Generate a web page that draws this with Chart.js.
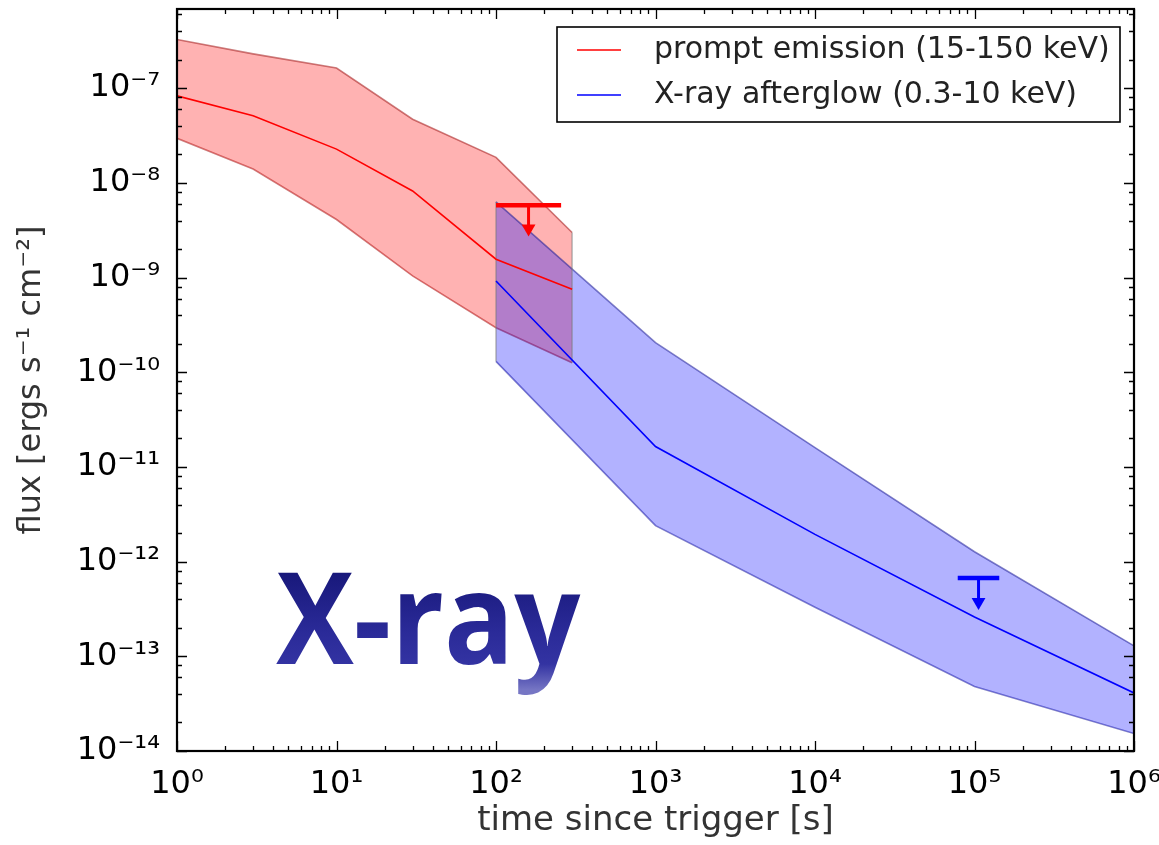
<!DOCTYPE html>
<html>
<head>
<meta charset="utf-8">
<script src="https://cdn.jsdelivr.net/npm/chart.js@4.4.1/dist/chart.umd.min.js"></script>
<style>
  html, body { margin: 0; padding: 0; background: #fff; }
  #c { display: block; }
</style>
</head>
<body>
<canvas id="c" width="1159" height="845"></canvas>
<script>
// prompt emission (15-150 keV): median and band
const promptTimes  = [1, 3, 10, 30, 100, 300];
const promptMedian = [8.3e-8, 5.1e-8, 2.27e-8, 8.2e-9, 1.56e-9, 7.5e-10];
const promptUpper  = [3.26e-7, 2.3e-7, 1.63e-7, 4.7e-8, 1.86e-8, 2.99e-9];
const promptLower  = [2.95e-8, 1.4e-8, 4.1e-9, 1.04e-9, 2.95e-10, 1.26e-10];

// X-ray afterglow (0.3-10 keV)
const afterglowTimes  = [100, 1e3, 1e4, 1e5, 1e6];
const afterglowMedian = [9.2e-10, 1.64e-11, 1.94e-12, 2.6e-13, 4.1e-14];
const afterglowUpper  = [6.3e-9, 2.05e-10, 1.6e-11, 1.27e-12, 1.29e-13];
const afterglowLower  = [1.3e-10, 2.4e-12, 3.3e-13, 4.8e-14, 1.53e-14];

// upper limits: [prompt, afterglow]
const limitTime     = [160, 1.06e5];
const limitTimeLow  = [100, 7.85e4];
const limitTimeHigh = [256, 1.43e5];
const limitFlux     = [5.8e-9, 6.7e-13];
const limitHeadFlux = [3.3e-9, 3.75e-13];

const seriesLabels = ['prompt emission (15-150 keV)', 'X-ray afterglow (0.3-10 keV)'];
const xTickExponents = [0, 1, 2, 3, 4, 5, 6];
const yTickExponents = [-14, -13, -12, -11, -10, -9, -8, -7];

const FONT = 'DejaVu Sans';
const sup = {'-': '⁻', '0': '⁰', '1': '¹', '2': '²', '3': '³', '4': '⁴', '5': '⁵', '6': '⁶', '7': '⁷', '8': '⁸', '9': '⁹'};
const pow10 = e => '10' + String(e).split('').map(ch => sup[ch]).join('');
const isMajor = v => Math.abs(Math.log10(v) - Math.round(Math.log10(v))) < 1e-9;

const pts = (xs, ys) => xs.map((x, i) => ({x: x, y: ys[i]}));

function logTicks(exps, subs, max) {
  const out = [];
  exps.forEach(e => {
    out.push({value: Math.pow(10, e), major: true});
    subs.forEach(s => {
      const v = s * Math.pow(10, e);
      if (v <= max) out.push({value: v});
    });
  });
  return out;
}

const frameTicks = {
  id: 'frameTicks',
  afterDatasetsDraw(chart) {
    const {ctx, chartArea: a} = chart;
    const x = chart.scales.x, y = chart.scales.y;
    ctx.save();
    ctx.strokeStyle = '#000';
    ctx.lineWidth = 1.3;
    ctx.beginPath();
    x.ticks.forEach(t => {
      const px = Math.round(x.getPixelForValue(t.value)) + 0.5;
      const len = isMajor(t.value) ? 10 : 5;
      ctx.moveTo(px, a.bottom); ctx.lineTo(px, a.bottom - len);
      ctx.moveTo(px, a.top); ctx.lineTo(px, a.top + len);
    });
    y.ticks.forEach(t => {
      const py = Math.round(y.getPixelForValue(t.value)) + 0.5;
      const len = isMajor(t.value) ? 10 : 5;
      ctx.moveTo(a.left, py); ctx.lineTo(a.left + len, py);
      ctx.moveTo(a.right, py); ctx.lineTo(a.right - len, py);
    });
    ctx.stroke();
    ctx.lineWidth = 2.2;
    ctx.strokeRect(a.left, a.top, a.right - a.left, a.bottom - a.top);
    ctx.restore();
  }
};

const legendBox = {
  id: 'legendBox',
  afterDatasetsDraw(chart) {
    const ctx = chart.ctx;
    const colors = [chart.data.datasets[4].borderColor, chart.data.datasets[5].borderColor];
    ctx.save();
    ctx.fillStyle = '#fff';
    ctx.fillRect(557, 27, 563, 95);
    ctx.strokeStyle = '#000';
    ctx.lineWidth = 1.6;
    ctx.strokeRect(557, 27, 563, 95);
    ctx.font = '30px "' + FONT + '"';
    ctx.textBaseline = 'middle';
    seriesLabels.forEach((lab, i) => {
      const yy = 50 + i * 45;
      ctx.strokeStyle = colors[i];
      ctx.lineWidth = 1.6;
      ctx.beginPath(); ctx.moveTo(577, yy); ctx.lineTo(621, yy); ctx.stroke();
      ctx.fillStyle = '#222';
      ctx.fillText(lab, 654, yy);
    });
    ctx.restore();
  }
};

const bigLabel = {
  id: 'bigLabel',
  afterDatasetsDraw(chart) {
    const ctx = chart.ctx;
    ctx.save();
    ctx.translate(280, 664);
    ctx.scale(0.915, 1);
    const g = ctx.createLinearGradient(0, -92, 0, 26);
    g.addColorStop(0, '#18187a');
    g.addColorStop(0.5, '#2a2a98');
    g.addColorStop(0.78, '#3333a2');
    g.addColorStop(1, '#7676c4');
    ctx.fillStyle = g;
    ctx.font = 'bold 127px "Open Sans"';
    ctx.textBaseline = 'alphabetic';
    ctx.fillText('X-ray', -4, 0);
    ctx.restore();
  }
};

const thin = {pointRadius: 0, tension: 0, fill: false};
const noPad = s => { s.paddingLeft = 0; s.paddingRight = 0; s.paddingTop = 0; s.paddingBottom = 0; };

new Chart(document.getElementById('c').getContext('2d'), {
  type: 'line',
  data: {
    datasets: [
      Object.assign({}, thin, {data: pts(promptTimes, promptUpper), borderColor: 'rgba(160,20,20,0.55)', borderWidth: 1.6,
        fill: '+1', backgroundColor: 'rgba(255,0,0,0.3)', order: 10}),
      Object.assign({}, thin, {data: pts(promptTimes, promptLower), borderColor: 'rgba(160,20,20,0.55)', borderWidth: 1.6, order: 10}),
      Object.assign({}, thin, {data: pts(afterglowTimes, afterglowUpper), borderColor: 'rgba(30,30,150,0.55)', borderWidth: 1.6,
        fill: '+1', backgroundColor: 'rgba(0,0,255,0.3)', order: 8}),
      Object.assign({}, thin, {data: pts(afterglowTimes, afterglowLower), borderColor: 'rgba(30,30,150,0.55)', borderWidth: 1.6, order: 8}),
      Object.assign({}, thin, {label: seriesLabels[0], data: pts(promptTimes, promptMedian), borderColor: '#ff0000', borderWidth: 1.6, order: 4}),
      Object.assign({}, thin, {label: seriesLabels[1], data: pts(afterglowTimes, afterglowMedian), borderColor: '#0000ff', borderWidth: 1.6, order: 4}),
      // vertical band edges
      Object.assign({}, thin, {data: [{x: promptTimes[5], y: promptUpper[5]}, {x: promptTimes[5], y: promptLower[5]}],
        borderColor: 'rgba(120,120,120,0.5)', borderWidth: 1.6, order: 6}),
      Object.assign({}, thin, {data: [{x: afterglowTimes[0], y: afterglowUpper[0]}, {x: afterglowTimes[0], y: afterglowLower[0]}],
        borderColor: 'rgba(120,120,120,0.5)', borderWidth: 1.6, order: 6}),
      // upper limit markers
      Object.assign({}, thin, {data: [{x: limitTimeLow[0], y: limitFlux[0]}, {x: limitTimeHigh[0], y: limitFlux[0]}],
        borderColor: '#ff0000', borderWidth: 4.5, order: 2}),
      Object.assign({}, thin, {data: [{x: limitTime[0], y: limitFlux[0]}, {x: limitTime[0], y: limitHeadFlux[0]}],
        borderColor: '#ff0000', borderWidth: 3, pointRadius: [0, 8], pointStyle: 'triangle', pointRotation: 180,
        pointBackgroundColor: '#ff0000', pointBorderWidth: 0, order: 2}),
      Object.assign({}, thin, {data: [{x: limitTimeLow[1], y: limitFlux[1]}, {x: limitTimeHigh[1], y: limitFlux[1]}],
        borderColor: '#0000ff', borderWidth: 4.5, order: 2}),
      Object.assign({}, thin, {data: [{x: limitTime[1], y: limitFlux[1]}, {x: limitTime[1], y: limitHeadFlux[1]}],
        borderColor: '#0000ff', borderWidth: 3, pointRadius: [0, 8], pointStyle: 'triangle', pointRotation: 180,
        pointBackgroundColor: '#0000ff', pointBorderWidth: 0, order: 2})
    ]
  },
  options: {
    responsive: false,
    animation: false,
    devicePixelRatio: 1,
    layout: {padding: {top: 9, right: 25, left: 0, bottom: 0}},
    plugins: {legend: {display: false}, tooltip: {enabled: false}},
    scales: {
      x: {
        type: 'logarithmic', min: 1, max: 1e6,
        afterBuildTicks: s => { s.ticks = logTicks(xTickExponents, [2, 3, 4, 5, 6, 7, 8, 9], 1e6); },
        afterFit: s => { s.height = 94; noPad(s); },
        grid: {display: false, drawTicks: false},
        border: {display: false},
        ticks: {autoSkip: false, maxRotation: 0, padding: 14, color: '#000',
          font: {family: FONT, size: 32},
          callback: v => isMajor(v) ? pow10(Math.round(Math.log10(v))) : ''},
        title: {display: true, text: 'time since trigger [s]', color: '#333',
          font: {family: FONT, size: 34}, padding: {top: 0, bottom: 3}}
      },
      y: {
        type: 'logarithmic', min: 1e-14, max: 6.85e-7,
        afterBuildTicks: s => { s.ticks = logTicks(yTickExponents, [2, 4, 6, 8], 6.85e-7); },
        afterFit: s => { s.width = 177; noPad(s); },
        grid: {display: false, drawTicks: false},
        border: {display: false},
        ticks: {autoSkip: false, padding: 17, color: '#000',
          font: {family: FONT, size: 32},
          callback: v => isMajor(v) ? pow10(Math.round(Math.log10(v))) : ''},
        title: {display: true, text: 'flux [ergs s⁻¹ cm⁻²]', color: '#333',
          font: {family: FONT, size: 32}, padding: {top: 12, bottom: 0}}
      }
    }
  },
  plugins: [frameTicks, legendBox, bigLabel]
});
</script>
</body>
</html>
